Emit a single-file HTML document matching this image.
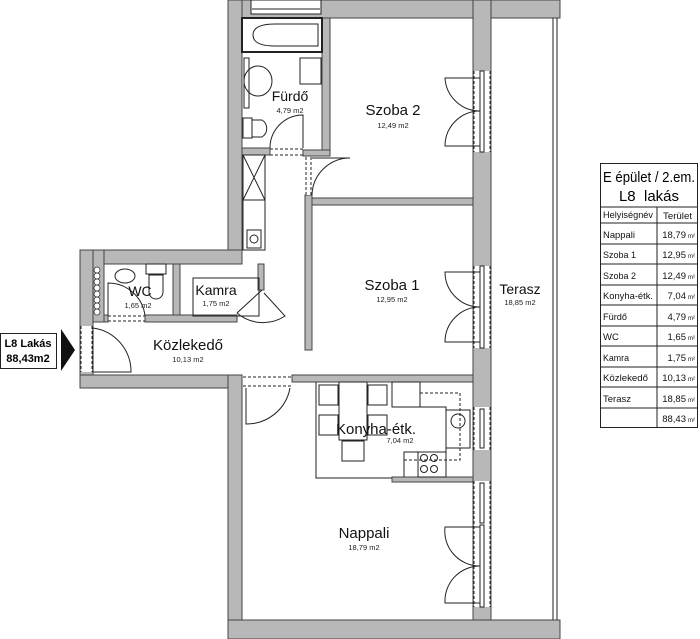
<!DOCTYPE html>
<html><head><meta charset="utf-8"><style>
html,body{margin:0;padding:0;background:#fff;}
svg{display:block;font-family:"Liberation Sans",sans-serif;}
.w{fill:#b8b8b8;stroke:#444;stroke-width:1}
.o{fill:#fff;stroke:none}
.l{fill:none;stroke:#222;stroke-width:1}
.d{fill:none;stroke:#222;stroke-width:1;stroke-dasharray:3,2}
.t{font-size:15px;text-anchor:middle;fill:#111}
.s{font-size:7.5px;text-anchor:middle;fill:#222}
.tb{font-size:9.5px;fill:#111}
</style></head><body>
<svg width="700" height="639" viewBox="0 0 700 639">
<rect class="w" x="230" y="0" width="330" height="18"/>
<rect class="w" x="228" y="0" width="14" height="264"/>
<rect class="w" x="80" y="250" width="162" height="14"/>
<rect class="w" x="80" y="250" width="24" height="72"/>
<rect class="w" x="80" y="250" width="13" height="138"/>
<rect class="w" x="80" y="375" width="162" height="13"/>
<rect class="w" x="228" y="375" width="14" height="264"/>
<rect class="w" x="228" y="620" width="332" height="19"/>
<rect class="w" x="473" y="0" width="18" height="620"/>
<rect class="w" x="322" y="18" width="8" height="138"/>
<rect class="w" x="242" y="148" width="28" height="7"/>
<rect class="w" x="303" y="150" width="27" height="6"/>
<rect class="w" x="305" y="195" width="7" height="155"/>
<rect class="w" x="312" y="198" width="161" height="7"/>
<rect class="w" x="292" y="375" width="181" height="7"/>
<rect class="w" x="392" y="477" width="81" height="5"/>
<rect class="w" x="173" y="264" width="7" height="54"/>
<rect class="w" x="104" y="315" width="4" height="7"/>
<rect class="w" x="145" y="315" width="92" height="7"/>
<rect class="w" x="258" y="264" width="6" height="26"/>
<rect class="o" x="251" y="0" width="70" height="14"/>
<rect class="l" x="251" y="0" width="70" height="14"/>
<line class="l" x1="252" y1="9" x2="320" y2="9"/>
<rect class="o" x="474" y="71" width="16" height="81"/>
<rect class="o" x="474" y="266" width="16" height="82"/>
<rect class="o" x="474" y="407" width="16" height="43"/>
<rect class="o" x="474" y="481" width="16" height="126"/>
<rect class="o" x="81" y="326" width="11" height="46"/>
<rect class="o" x="243" y="376" width="48" height="11"/>
<rect class="o" x="306" y="157" width="5" height="38"/>
<rect class="o" x="271" y="149" width="31" height="6"/>
<rect class="o" x="109" y="316" width="35" height="5"/>
<g class="d">
<line x1="81" y1="326" x2="81" y2="372"/><line x1="92" y1="326" x2="92" y2="372"/>
<line x1="243" y1="377" x2="291" y2="377"/><line x1="243" y1="386" x2="291" y2="386"/>
<line x1="306" y1="157" x2="306" y2="195"/><line x1="311" y1="157" x2="311" y2="195"/>
<line x1="270" y1="149" x2="303" y2="149"/><line x1="270" y1="155" x2="303" y2="155"/>
<line x1="108" y1="316" x2="145" y2="316"/><line x1="108" y1="321" x2="145" y2="321"/>
<line x1="474" y1="71" x2="474" y2="152"/><line x1="490" y1="71" x2="490" y2="152"/>
<line x1="474" y1="266" x2="474" y2="348"/><line x1="490" y1="266" x2="490" y2="348"/>
<line x1="474" y1="407" x2="474" y2="450"/><line x1="490" y1="407" x2="490" y2="450"/>
<line x1="474" y1="481" x2="474" y2="607"/><line x1="490" y1="481" x2="490" y2="607"/>
</g>
<g class="l">
<rect x="480" y="71" width="4" height="81"/><rect x="480" y="266" width="4" height="82"/>
<rect x="480" y="409" width="4" height="39"/><rect x="480" y="483" width="4" height="40"/><rect x="480" y="525" width="4" height="82"/>
<path d="M480 78 H445 A35 35 0 0 0 480 111"/><path d="M480 146 H445 A35 35 0 0 1 480 111"/>
<path d="M480 272 H445 A35 35 0 0 0 480 307"/><path d="M480 342 H445 A35 35 0 0 1 480 307"/>
<path d="M480 527 H445 A35 35 0 0 0 480 566"/><path d="M480 603 H445 A35 35 0 0 1 480 566"/>
<path d="M93 328 V372 H131 A44 44 0 0 0 93 328"/>
<path d="M312 158 H350 A38 38 0 0 0 312 195"/>
<path d="M303 148 V115 A33 33 0 0 0 270 148"/>
<path d="M246 388 V424 A44 44 0 0 0 290 388"/>
<path d="M108 316 V283 A37 37 0 0 1 145 316"/>
<path d="M262 290 L237 313 M264 293 L285 316 A40 40 0 0 1 237 313"/>
</g>
<line class="l" x1="553" y1="18" x2="553" y2="620"/><line class="l" x1="557" y1="18" x2="557" y2="620"/>
<g class="l">
<rect x="242" y="18" width="80" height="34" style="stroke-width:2"/>
<path d="M318 24 H275 Q253 24 253 35 Q253 46 275 46 H318 Z"/>
<rect x="244" y="58" width="5" height="50"/>
<ellipse cx="258" cy="81" rx="14" ry="15"/>
<rect x="300" y="58" width="21" height="26"/>
<rect x="243" y="118" width="9" height="20"/><path d="M252 120 H262 A10 10 0 0 1 262 137 H252"/>
<rect x="243" y="155" width="22" height="45"/><path d="M243 155 L265 200 M265 155 L243 200"/>
<rect x="243" y="200" width="22" height="50"/><rect x="247" y="230" width="14" height="18"/><circle cx="254" cy="239" r="4"/>
<ellipse cx="125" cy="276" rx="10" ry="7"/>
<rect x="146" y="264" width="20" height="10"/><path d="M149 275 H163 V292 A7 7 0 0 1 149 292 Z"/>
<rect x="193" y="278" width="66" height="38"/>
</g>
<g fill="#fff" stroke="#333" stroke-width="0.8">
<circle cx="97" cy="270" r="3"/><circle cx="97" cy="276" r="3"/><circle cx="97" cy="282" r="3"/><circle cx="97" cy="288" r="3"/><circle cx="97" cy="294" r="3"/><circle cx="97" cy="300" r="3"/><circle cx="97" cy="306" r="3"/><circle cx="97" cy="312" r="3"/>
</g>
<g class="l">
<path d="M316 382 V478 H392"/>
<rect x="339" y="382" width="28" height="58" fill="#fff"/>
<rect x="319" y="385" width="19" height="20"/><rect x="319" y="415" width="19" height="20"/>
<rect x="368" y="385" width="19" height="20"/><rect x="368" y="415" width="19" height="20"/>
<rect x="342" y="441" width="22" height="20"/>
<rect x="392" y="382" width="28" height="25"/>
<path d="M420 407 H446 V452 H404 V477"/>
<rect x="446" y="410" width="24" height="38"/><circle cx="458" cy="421" r="7"/>
<rect x="418" y="452" width="28" height="25"/>
<circle cx="424" cy="458" r="3.5"/><circle cx="434" cy="458" r="3.5"/><circle cx="424" cy="469" r="3.5"/><circle cx="434" cy="469" r="3.5"/>
</g>
<path class="d" d="M420 393 H460 V460 H404"/>
<text class="t" x="290" y="101" style="font-size:14px">Fürdő</text><text class="s" x="290" y="113">4,79 m2</text>
<text class="t" x="393" y="115">Szoba 2</text><text class="s" x="393" y="128">12,49 m2</text>
<text class="t" x="392" y="290">Szoba 1</text><text class="s" x="392" y="302">12,95 m2</text>
<text class="t" x="520" y="294" style="font-size:14px">Terasz</text><text class="s" x="520" y="305">18,85 m2</text>
<text class="t" x="216" y="295" style="font-size:14px">Kamra</text><text class="s" x="216" y="306">1,75 m2</text>
<text class="t" x="140" y="296" style="font-size:14px">WC</text><text class="s" x="138" y="308">1,65 m2</text>
<text class="t" x="188" y="350">Közlekedő</text><text class="s" x="188" y="362">10,13 m2</text>
<text class="t" x="376" y="434">Konyha-étk.</text><text class="s" x="400" y="443">7,04 m2</text>
<text class="t" x="364" y="538">Nappali</text><text class="s" x="364" y="550">18,79 m2</text>
<rect x="0.5" y="333.5" width="56" height="35" fill="#fff" stroke="#222"/>
<text x="28" y="347" style="font-size:11px;font-weight:bold;text-anchor:middle">L8 Lakás</text>
<text x="28" y="362" style="font-size:11px;font-weight:bold;text-anchor:middle">88,43m2</text>
<path d="M61 329 L75 350 L61 371 Z" fill="#111"/>
<g stroke="#222" fill="none">
<rect x="600.5" y="163.5" width="97" height="264"/>
<line x1="600" y1="207" x2="698" y2="207"/>
<line x1="657" y1="207" x2="657" y2="428"/>
<line x1="600" y1="223" x2="698" y2="223"/><line x1="600" y1="244" x2="698" y2="244"/><line x1="600" y1="264" x2="698" y2="264"/><line x1="600" y1="285" x2="698" y2="285"/><line x1="600" y1="305" x2="698" y2="305"/><line x1="600" y1="326" x2="698" y2="326"/><line x1="600" y1="346" x2="698" y2="346"/><line x1="600" y1="367" x2="698" y2="367"/><line x1="600" y1="387" x2="698" y2="387"/><line x1="600" y1="408" x2="698" y2="408"/>
</g>
<text x="603" y="182" style="font-size:15px" textLength="92" lengthAdjust="spacingAndGlyphs">E épület / 2.em.</text>
<text x="649" y="201" style="font-size:15px;text-anchor:middle">L8 &#160;lakás</text>
<g class="tb">
<text x="603" y="218" style="font-size:9px" textLength="50" lengthAdjust="spacingAndGlyphs">Helyiségnév</text><text x="663" y="219" textLength="29" lengthAdjust="spacingAndGlyphs">Terület</text>
<text x="603" y="238" textLength="32" lengthAdjust="spacingAndGlyphs">Nappali</text><text x="603" y="258" textLength="33" lengthAdjust="spacingAndGlyphs">Szoba 1</text><text x="603" y="279" textLength="33" lengthAdjust="spacingAndGlyphs">Szoba 2</text><text x="603" y="299" textLength="50" lengthAdjust="spacingAndGlyphs">Konyha-étk.</text><text x="603" y="320" textLength="24" lengthAdjust="spacingAndGlyphs">Fürdő</text><text x="603" y="340">WC</text><text x="603" y="361" textLength="26" lengthAdjust="spacingAndGlyphs">Kamra</text><text x="603" y="381" textLength="45" lengthAdjust="spacingAndGlyphs">Közlekedő</text><text x="603" y="402" textLength="28" lengthAdjust="spacingAndGlyphs">Terasz</text>
</g>
<g class="tb" style="text-anchor:end">
<text x="686" y="238">18,79</text><text x="686" y="258">12,95</text><text x="686" y="279">12,49</text><text x="686" y="299">7,04</text><text x="686" y="320">4,79</text><text x="686" y="340">1,65</text><text x="686" y="361">1,75</text><text x="686" y="381">10,13</text><text x="686" y="402">18,85</text><text x="686" y="422">88,43</text>
</g>
<g style="font-size:6px" fill="#111">
<text x="688" y="238">m²</text><text x="688" y="258">m²</text><text x="688" y="279">m²</text><text x="688" y="299">m²</text><text x="688" y="320">m²</text><text x="688" y="340">m²</text><text x="688" y="361">m²</text><text x="688" y="381">m²</text><text x="688" y="402">m²</text><text x="688" y="422">m²</text>
</g>
</svg>
</body></html>
